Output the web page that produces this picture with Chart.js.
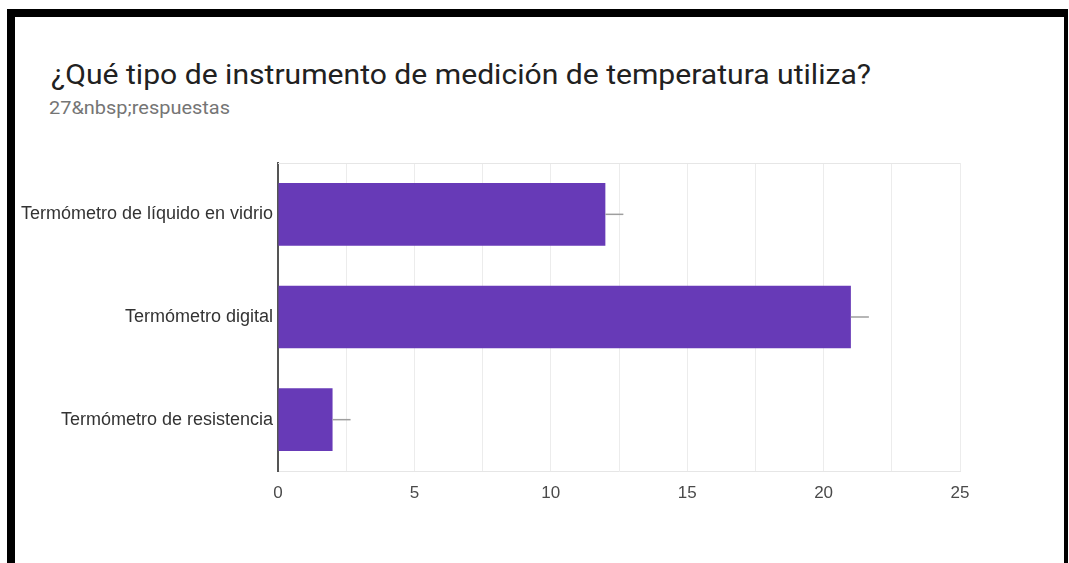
<!DOCTYPE html>
<html>
<head>
<meta charset="utf-8">
<script src="https://cdn.jsdelivr.net/npm/chart.js@4"></script>
<style>
  html, body { margin: 0; overflow: hidden; }
  body { background: #fff; width: 1069px; height: 563px; position: relative; }
  #marco { position: absolute; left: 7px; top: 9px; width: 1049px; height: 546px;
           border-top: 8px solid #000; border-left: 8px solid #000; border-right: 4px solid #000; }
  #titulo { position: absolute; left: 51px; top: 58px; font-family: Roboto, sans-serif; font-size: 28px; color: #212121;
            white-space: nowrap; transform: scaleX(1.075); transform-origin: left top; }
  #subtitulo { position: absolute; left: 49px; top: 98px; font-family: Roboto, sans-serif; font-size: 17.5px; color: #757575;
               white-space: nowrap; transform: scaleX(1.14); transform-origin: left top; }
  #lienzo { position: absolute; left: 16px; top: 140px; }
</style>
</head>
<body>
<div id="marco"></div>
<div id="titulo">¿Qué tipo de instrumento de medición de temperatura utiliza?</div>
<div id="subtitulo">27&amp;nbsp;respuestas</div>
<canvas id="lienzo" width="1048" height="400"></canvas>
<script>
const categorias = ['Termómetro de líquido en vidrio', 'Termómetro digital', 'Termómetro de resistencia'];
const respuestas = [12, 21, 2];
const bigote = 0.66; // la rayita gris que sale de cada barra
const ejeMin = 0;
const ejeMax = 25;

// linea fina arriba del area del grafico
const lineaSuperior = {
  id: 'lineaSuperior',
  beforeDatasetsDraw(chart) {
    const { ctx, chartArea } = chart;
    ctx.save();
    ctx.strokeStyle = '#e6e6e6';
    ctx.lineWidth = 1;
    ctx.beginPath();
    ctx.moveTo(chartArea.left, chartArea.top + 0.5);
    ctx.lineTo(chartArea.right, chartArea.top + 0.5);
    ctx.stroke();
    ctx.restore();
  }
};

const bigotes = {
  id: 'bigotes',
  afterDatasetsDraw(chart) {
    const { ctx } = chart;
    const escala = chart.scales.x;
    const barras = chart.getDatasetMeta(0).data;
    ctx.save();
    ctx.strokeStyle = '#9e9e9e';
    ctx.lineWidth = 1.5;
    barras.forEach((barra, i) => {
      const v = respuestas[i];
      ctx.beginPath();
      ctx.moveTo(escala.getPixelForValue(v), barra.y);
      ctx.lineTo(escala.getPixelForValue(v + bigote), barra.y);
      ctx.stroke();
    });
    ctx.restore();
  }
};

const ctx = document.getElementById('lienzo').getContext('2d');

new Chart(ctx, {
  type: 'bar',
  data: {
    labels: categorias,
    datasets: [{
      data: respuestas,
      backgroundColor: '#673ab7',
      borderWidth: 0,
      barPercentage: 0.61,
      categoryPercentage: 1
    }]
  },
  plugins: [lineaSuperior, bigotes],
  options: {
    indexAxis: 'y',
    responsive: false,
    animation: false,
    layout: { padding: { top: 23, right: 104, left: 0, bottom: 0 } },
    plugins: {
      legend: { display: false },
      tooltip: { enabled: false }
    },
    scales: {
      x: {
        min: ejeMin,
        max: ejeMax,
        afterFit(scale) { scale.height = 69; },
        ticks: {
          stepSize: 2.5,
          autoSkip: false,
          maxRotation: 0,
          padding: 12,
          color: '#4a4a4a',
          font: { family: '"Liberation Sans", Arial, sans-serif', size: 17 },
          callback: (v) => (v % 5 === 0 ? v : '')
        },
        grid: { color: '#ececec', lineWidth: 1, drawTicks: false },
        border: { color: '#e6e6e6', width: 1 }
      },
      y: {
        afterFit(scale) { scale.width = 262; },
        ticks: {
          padding: 5,
          color: '#333',
          font: { family: '"Liberation Sans", Arial, sans-serif', size: 18 }
        },
        grid: { display: false, drawTicks: false },
        border: { color: '#555', width: 2 }
      }
    }
  }
});
</script>
</body>
</html>
